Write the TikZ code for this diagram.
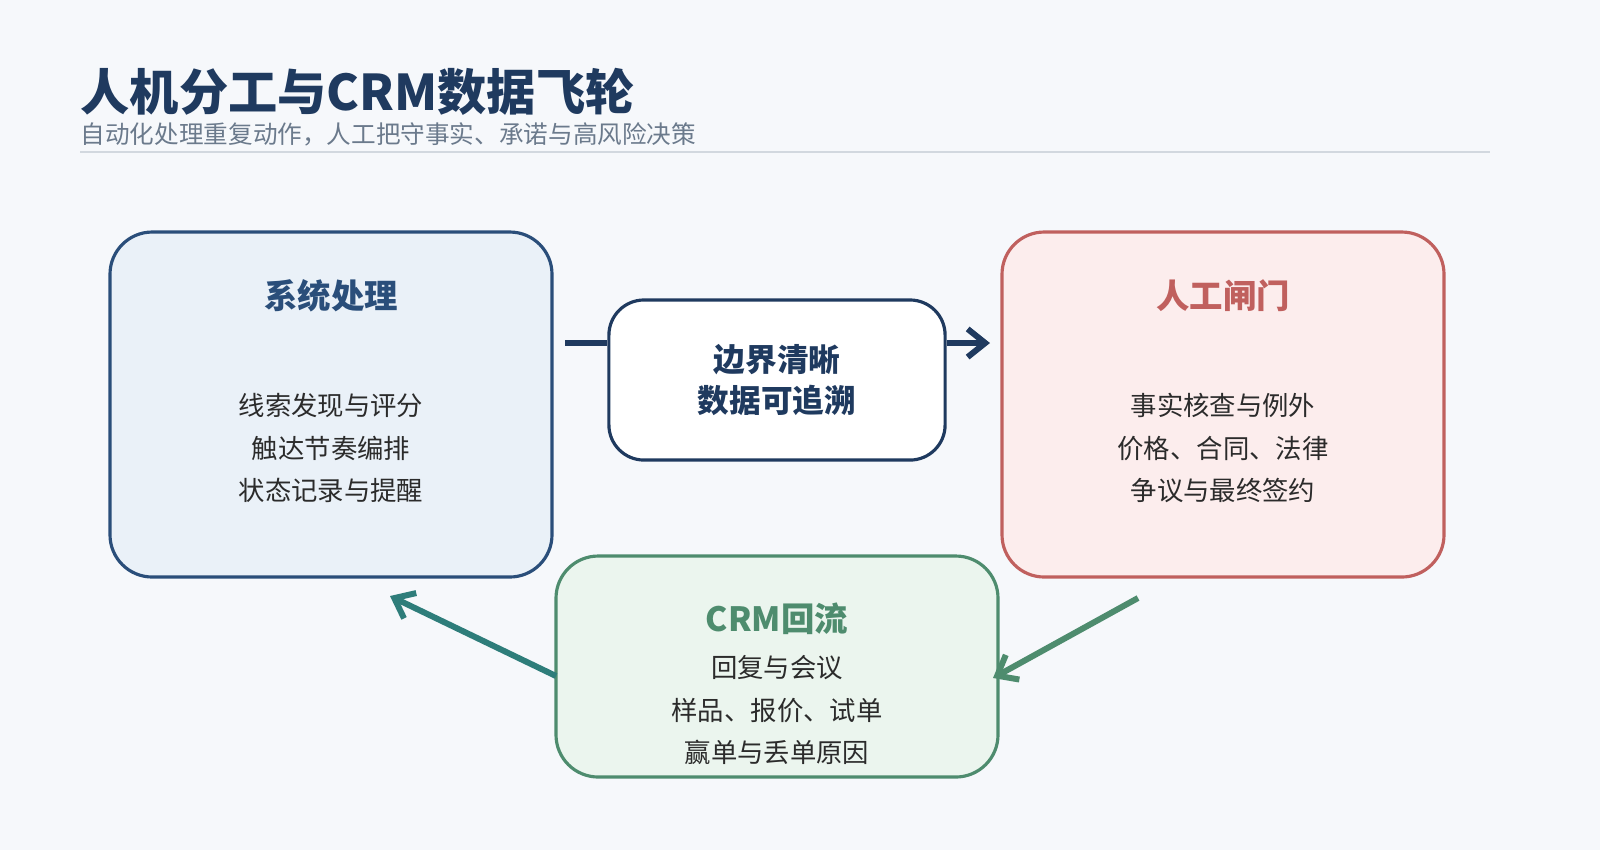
\documentclass[tikz,border=0pt]{standalone}
\usepackage{fontspec}
\setmainfont{Noto Sans CJK SC}
\usetikzlibrary{arrows.meta,positioning}
\definecolor{bgc}{HTML}{F6F8FB}
\definecolor{navy}{HTML}{1F3A5F}
\definecolor{sysc}{HTML}{2A4E7A}
\definecolor{sysf}{HTML}{EAF1F8}
\definecolor{humc}{HTML}{C0605E}
\definecolor{humf}{HTML}{FCEDED}
\definecolor{crmc}{HTML}{4E8C6E}
\definecolor{crmf}{HTML}{EBF5EE}
\definecolor{tealc}{HTML}{2E7D7A}
\definecolor{greyc}{HTML}{6B7A8C}
\definecolor{txtc}{HTML}{2B2B2B}
\begin{document}
\begin{tikzpicture}[x=0.01cm,y=-0.01cm,
        panel/.style={rounded corners=12pt, line width=0.9pt},
        head/.style={font=\fontsize{9.5}{11}\selectfont\bfseries},
        item/.style={font=\fontsize{7.5}{12}\selectfont, text=txtc, align=center},
        flow/.style={line width=1.7pt, -{Straight Barb[length=5pt,width=8pt]}},
        ]
      \fill[bgc] (0,0) rectangle (1600,850);

      \node[anchor=base west, text=navy, font=\fontsize{14}{16}\selectfont\bfseries, inner sep=0pt] (title) at (80,110) {人机分工与CRM数据飞轮};
      \node[anchor=base west, text=greyc, font=\fontsize{7}{8}\selectfont, inner sep=0pt] (sub) at (80,143) {自动化处理重复动作，人工把守事实、承诺与高风险决策};
      \draw[line width=0.6pt, draw=navy!20] (80,152) -- (1490,152);

      \draw[panel, draw=sysc, fill=sysf] (110,232) rectangle (552,577);
      \node[head, text=sysc] (syst) at (331,296) {系统处理};
      \node[item] (sysi) at (331,448) {线索发现与评分\\触达节奏编排\\状态记录与提醒};

      \draw[panel, draw=humc, fill=humf] (1002,232) rectangle (1444,577);
      \node[head, text=humc] (humt) at (1223,296) {人工闸门};
      \node[item] (humi) at (1223,448) {事实核查与例外\\价格、合同、法律\\争议与最终签约};

      \draw[panel, draw=crmc, fill=crmf] (556,556) rectangle (998,777);
      \node[head, text=crmc] (crmt) at (777,619) {CRM回流};
      \node[item] (crmi) at (777,710) {回复与会议\\样品、报价、试单\\赢单与丢单原因};

      \node[rectangle, rounded corners=10pt, draw=navy, fill=white, line width=0.9pt,
            minimum width=3.36cm, minimum height=1.6cm, inner sep=0pt, text=navy,
            font=\fontsize{9}{11.5}\selectfont\bfseries, align=center] (mid) at (777,380)
            {边界清晰\\数据可追溯};

      \coordinate (a1) at (565,343);
      \coordinate (a2) at (990,343);
      \coordinate (g1) at (1138,598);
      \coordinate (g2) at (993,678);
      \coordinate (t1) at (556,676);
      \coordinate (t2) at (390,596);

      \draw[line width=1.7pt, navy] (a1) -- (a1 -| mid.west);
      \draw[flow, navy] (a2 -| mid.east) -- (a2);
      \draw[flow, crmc] (g1) -- (g2);
      \draw[flow, tealc] (t1) -- (t2);

      \pgfresetboundingbox
      \useasboundingbox (0,0) rectangle (1600,850);
    \end{tikzpicture}
\end{document}
